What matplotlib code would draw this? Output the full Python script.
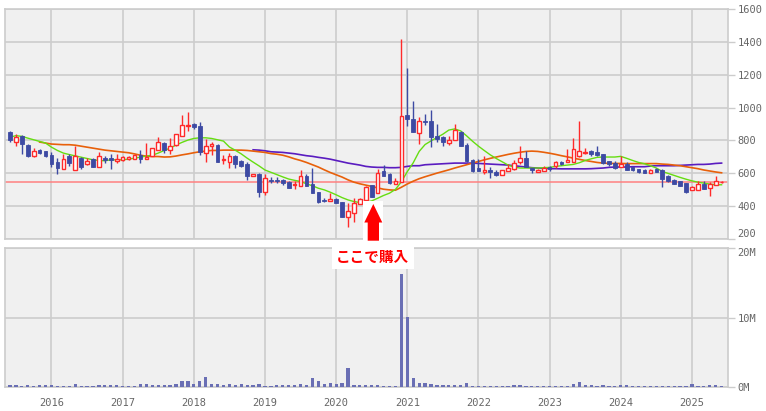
import numpy as np
import matplotlib
matplotlib.use('Agg')
import matplotlib.pyplot as plt
from matplotlib.patches import Polygon, Rectangle

# monthly candles, Jun 2015 .. Jun 2025
opens = [851, 788, 825, 774, 708, 739, 733, 712, 670, 629, 704, 623,
         692, 655, 686, 641, 692, 694, 674, 682, 686, 688, 710, 686,
         706, 739, 782, 739, 772, 829, 890, 900, 890, 723, 769, 771,
         682, 670, 706, 672, 657, 582, 596, 484, 559, 559, 561, 549,
         528, 524, 585, 536, 485, 440, 430, 446, 424, 336, 361, 412,
         438, 528, 483, 615, 597, 534, 546, 957, 933, 845, 916, 920,
         829, 821, 784, 800, 849, 774, 682, 632, 605, 621, 609, 589,
         611, 627, 666, 693, 634, 607, 615, 638, 642, 666, 670, 668,
         706, 724, 737, 731, 719, 672, 662, 638, 658, 638, 627, 617,
         599, 625, 617, 581, 560, 550, 540, 497, 499, 534, 509, 530, 544]
highs = [859, 841, 831, 776, 755, 749, 735, 729, 692, 718, 718, 769,
         700, 692, 692, 727, 708, 718, 718, 708, 706, 712, 743, 786,
         753, 822, 790, 816, 841, 955, 973, 906, 914, 810, 788, 778,
         712, 723, 714, 682, 667, 598, 604, 596, 576, 580, 567, 553,
         550, 617, 597, 635, 485, 452, 479, 452, 424, 418, 448, 448,
         520, 528, 625, 652, 600, 570, 1419, 1238, 1038, 943, 961, 984,
         900, 829, 829, 902, 855, 784, 685, 688, 703, 638, 617, 619,
         656, 682, 768, 733, 634, 625, 642, 646, 672, 672, 748, 812,
         918, 754, 743, 768, 719, 672, 672, 703, 666, 638, 627, 625,
         625, 632, 625, 587, 566, 556, 540, 520, 550, 550, 544, 585, 556]
lows = [792, 769, 718, 702, 702, 719, 702, 641, 598, 629, 643, 623,
        627, 649, 641, 641, 665, 625, 661, 674, 682, 688, 661, 686,
        706, 739, 723, 720, 769, 825, 859, 869, 712, 670, 712, 670,
        659, 633, 635, 641, 559, 582, 457, 467, 543, 539, 527, 508,
        507, 520, 520, 477, 422, 424, 430, 422, 332, 275, 306, 412,
        434, 456, 477, 581, 532, 534, 546, 886, 851, 778, 896, 760,
        790, 764, 774, 800, 764, 668, 607, 611, 595, 570, 581, 589,
        611, 621, 658, 638, 601, 607, 611, 613, 632, 650, 668, 668,
        702, 719, 703, 705, 654, 644, 625, 638, 621, 613, 601, 599,
        599, 605, 514, 546, 534, 520, 483, 497, 499, 505, 459, 530, 540]
closes = [802, 820, 776, 706, 737, 721, 708, 657, 635, 688, 665, 706,
          639, 676, 641, 704, 682, 680, 686, 700, 700, 710, 688, 702,
          753, 792, 743, 767, 839, 894, 894, 880, 729, 769, 778, 670,
          686, 706, 659, 647, 586, 596, 488, 570, 553, 553, 539, 512,
          536, 585, 524, 477, 426, 434, 444, 422, 336, 371, 422, 442,
          516, 456, 601, 581, 538, 554, 947, 931, 851, 920, 912, 821,
          806, 792, 804, 866, 764, 672, 615, 611, 619, 605, 589, 619,
          632, 662, 693, 638, 617, 621, 632, 625, 666, 656, 682, 750,
          735, 730, 717, 711, 660, 656, 632, 658, 621, 617, 605, 599,
          621, 605, 566, 550, 536, 524, 489, 515, 534, 505, 536, 550, 548]
volumes = [0.33, 0.24, 0.15, 0.33, 0.2, 0.24, 0.33, 0.24, 0.2, 0.2, 0.2, 0.48,
           0.2, 0.2, 0.2, 0.25, 0.25, 0.3, 0.3, 0.2, 0.2, 0.2, 0.45, 0.45,
           0.35, 0.35, 0.35, 0.35, 0.4, 0.9, 0.9, 0.5, 0.8, 1.5, 0.45, 0.5,
           0.35, 0.4, 0.35, 0.4, 0.3, 0.35, 0.45, 0.2, 0.2, 0.25, 0.25, 0.3,
           0.3, 0.4, 0.35, 1.35, 0.9, 0.45, 0.6, 0.45, 0.6, 2.8, 0.3, 0.3,
           0.3, 0.3, 0.35, 0.2, 0.2, 0.2, 16.3, 10.1, 1.35, 0.55, 0.55, 0.4,
           0.35, 0.35, 0.3, 0.3, 0.25, 0.6, 0.2, 0.2, 0.2, 0.2, 0.2, 0.2,
           0.2, 0.3, 0.3, 0.2, 0.2, 0.2, 0.2, 0.2, 0.2, 0.2, 0.2, 0.45,
           0.77, 0.25, 0.25, 0.2, 0.25, 0.2, 0.2, 0.3, 0.3, 0.2, 0.2, 0.2,
           0.2, 0.2, 0.2, 0.2, 0.2, 0.2, 0.2, 0.48, 0.2, 0.2, 0.3, 0.3, 0.2]

nan = np.nan
ma_short = [820, 829, 825, 814, 804, 794, 784, 759, 739, 723, 714, 706,
            698, 690, 682, 678, 676, 682, 682, 682, 686, 692, 698, 705,
            710, 723, 739, 753, 772, 788, 802, 812, 816, 816, 812, 804,
            796, 760, 740, 718, 692, 668, 645, 620, 606, 592, 578, 565,
            557, 550, 536, 524, 509, 499, 485, 469, 452, 438, 428, 422,
            424, 432, 448, 465, 479, 502, 548, 610, 664, 733, 775, 797,
            818, 838, 863, 870, 858, 828, 795, 765, 738, 712, 690, 670,
            650, 638, 632, 632, 632, 632, 634, 636, 642, 646, 650, 654,
            664, 678, 688, 697, 699, 699, 699, 703, 691, 678, 666, 658,
            646, 632, 611, 599, 587, 575, 564, 554, 546, 540, 534, 530, 530]
ma_mid = [nan, nan, nan, nan, nan, 790, 784, 778, 776, 774, 774, 771,
          765, 759, 753, 747, 741, 737, 733, 729, 725, 718, 710, 704,
          702, 702, 699, 700, 705, 712, 718, 725, 731, 735, 739, 739,
          741, 741, 741, 741, 739, 735, 731, 727, 720, 716, 710, 700,
          688, 678, 666, 652, 638, 621, 605, 591, 577, 560, 546, 536,
          528, 520, 511, 503, 499, 497, 515, 535, 552, 567, 579, 590,
          601, 611, 621, 632, 642, 652, 662, 672, 682, 691, 699, 707,
          715, 722, 728, 733, 735, 733, 728, 722, 715, 707, 700, 692,
          685, 678, 672, 666, 662, 660, 660, 660, 659, 659, 659, 659,
          659, 659, 656, 654, 650, 646, 640, 634, 628, 620, 614, 608, 603]
ma_long = [nan] * 41 + [
          743, 741, 737, 731, 729, 727, 723,
          719, 713, 707, 703, 697, 692, 686, 678, 670, 662, 656, 650,
          642, 638, 636, 636, 634, 634, 636, 642, 646, 646, 652, 654,
          656, 658, 660, 662, 662, 662, 662, 660, 658, 656, 654, 652,
          650, 646, 642, 638, 634, 632, 630, 628, 628, 627, 627, 627,
          627, 627, 628, 630, 632, 636, 638, 638, 638, 640, 640, 640,
          644, 646, 646, 646, 646, 648, 650, 652, 654, 654, 656, 660, 662]

years = ['2016', '2017', '2018', '2019', '2020', '2021', '2022', '2023', '2024', '2025']
buy_price = 545
buy_label = 'ここで購入'

W, H = 766, 411
x = np.arange(len(closes))
o, hi, lo, c = map(np.array, (opens, highs, lows, closes))
up = c >= o

red = '#ff2a2a'
blue = '#3d4aa3'
grid_c = '#cccccc'
tick_c = '#666666'
mono = 'DejaVu Sans Mono'


def frac(px, py):
    return px / W, 1 - py / H


fig = plt.figure(figsize=(W / 100, H / 100), dpi=100)
fig.patch.set_facecolor('white')
ax = fig.add_axes([5 / W, 1 - 239 / H, 723 / W, 230 / H])
axv = fig.add_axes([5 / W, 1 - 387 / H, 723 / W, 139 / H])

year_pos = np.arange(7, len(closes), 12)[:len(years)]

for a in (ax, axv):
    a.set_facecolor('#f0f0f0')
    a.set_xlim(-0.84, len(closes) + 0.08)
    a.yaxis.tick_right()
    a.set_xticks(year_pos)
    a.grid(True, color=grid_c, lw=1.2)
    a.set_axisbelow(True)
    for s in a.spines.values():
        s.set_color(grid_c)
        s.set_linewidth(1.2)
    a.tick_params(axis='y', colors=grid_c, length=5, width=1, labelcolor=tick_c,
                  labelsize=7.5, pad=2)

# price panel
ax.set_ylim(200, 1600)
ax.set_yticks(range(200, 1601, 200))
ax.set_yticklabels([str(v) for v in range(200, 1601, 200)], family=mono)
ax.tick_params(axis='x', length=0, labelbottom=False)

ax.axhline(buy_price, color='#ff8080', lw=1.1, zorder=2)
ax.plot(x, ma_long, color='#5a1cc0', lw=1.2, zorder=3)
ax.plot(x, ma_mid, color='#e8600a', lw=1.2, zorder=3)
ax.plot(x, ma_short, color='#66dd11', lw=1.0, zorder=3)

ax.vlines(x[up], lo[up], hi[up], color=red, lw=1, zorder=4)
ax.vlines(x[~up], lo[~up], hi[~up], color=blue, lw=1, zorder=4)
body = np.maximum(np.abs(c - o), 4)
ax.bar(x[up], body[up], bottom=np.minimum(o, c)[up], width=0.62,
       facecolor='white', edgecolor=red, lw=1, zorder=5)
ax.bar(x[~up], body[~up], bottom=np.minimum(o, c)[~up], width=0.62,
       facecolor=blue, edgecolor=blue, lw=0.6, zorder=5)

# volume panel
axv.bar(x, volumes, width=0.55, color='#6a6fb4', zorder=3)
axv.set_ylim(0, 20)
axv.set_yticks([0, 10, 20])
axv.set_yticklabels(['0M', '10M', '20M'], family=mono)
axv.get_yticklabels()[-1].set_va('top')
axv.set_xticklabels(years, family=mono, fontsize=7.5, color=tick_c)
axv.tick_params(axis='x', length=0, pad=8)
ax.get_yticklabels()[0].set_va('bottom')

# buy marker
x0, y0 = frac(362.7, 241.7)
x1, y1 = frac(383.3, 201)
fig.add_artist(Rectangle((x0, y0), x1 - x0, y1 - y0, transform=fig.transFigure,
                         facecolor='white', edgecolor='none', zorder=10))
arrow_px = [(373.3, 204), (382.3, 222.5), (379, 222.5), (379, 240.7),
            (367.7, 240.7), (367.7, 222.5), (364.3, 222.5)]
fig.add_artist(Polygon([frac(px, py) for px, py in arrow_px], closed=True,
                       transform=fig.transFigure, facecolor='#ff0000',
                       edgecolor='none', zorder=11))
tx, ty = frac(372.7, 257)
fig.text(tx, ty, buy_label, family=['Noto Sans CJK JP', 'DejaVu Sans'],
         fontsize=10.5, fontweight='bold', color='#ff0000', ha='center', va='center',
         zorder=12, bbox=dict(boxstyle='square,pad=0.3', fc='white', ec='none'))

fig.savefig('out.png', dpi=100)
